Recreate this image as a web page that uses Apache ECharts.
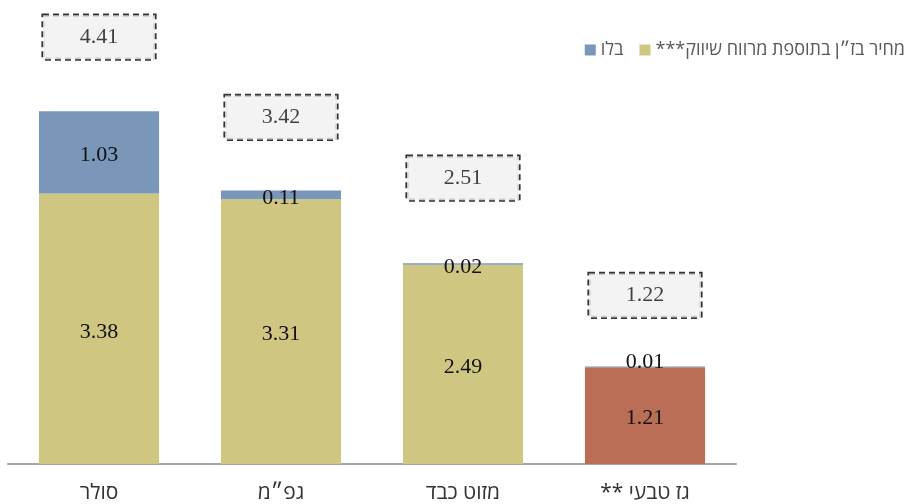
<!DOCTYPE html>
<html>
<head>
<meta charset="utf-8">
<script src="https://cdn.jsdelivr.net/npm/echarts@6/dist/echarts.min.js"></script>
<style>html,body{margin:0;padding:0;background:#fff}#c{width:914px;height:504px}</style>
</head>
<body>
<div id="c"></div>
<script>
var categories = ['סולר', 'גפ״מ', 'מזוט כבד', 'גז טבעי **'];
var basePrice = [3.38, 3.31, 2.49, 1.21];
var excise = [1.03, 0.11, 0.02, 0.01];
var totals = [4.41, 3.42, 2.51, 1.22];
var seriesNames = ['מחיר בז״ן בתוספת מרווח שיווק***', 'בלו'];

var labelLift = [74, 73, 85, 71];
var serif = '"Liberation Serif", "DejaVu Serif", serif';
var sans = '"Open Sans", "Liberation Sans", "DejaVu Sans", sans-serif';
function rtl(s) { return '\u202B' + s + '\u202C'; }

var chart = echarts.init(document.getElementById('c'), null, {renderer: 'canvas'});
chart.setOption({
  animation: false,
  backgroundColor: '#fff',
  grid: {left: 8, right: 178, top: 64, bottom: 38},
  legend: {
    data: [seriesNames[1], seriesNames[0]],
    right: 4, top: 36,
    itemWidth: 11, itemHeight: 11, itemGap: 16,
    icon: 'rect',
    formatter: function (n) { return rtl(n); },
    textStyle: {fontFamily: sans, fontSize: 18, color: '#595959'}
  },
  xAxis: {
    type: 'category', data: categories,
    axisLine: {lineStyle: {color: '#a6a6a6', width: 2}},
    axisTick: {show: false},
    axisLabel: {fontFamily: sans, fontSize: 21, color: '#333', margin: 19,
      formatter: function (v) { return rtl(v); }}
  },
  yAxis: {type: 'value', min: 0, max: 5, show: false, splitLine: {show: false}},
  series: [
    {
      name: seriesNames[0], type: 'bar', stack: 's', barWidth: '66%',
      itemStyle: {color: '#cfc682'},
      label: {show: true, position: 'inside', offset: [0, 3], fontFamily: serif, fontSize: 22, color: '#111'},
      data: basePrice.map(function (v, i) {
        return i === 3 ? {value: v, itemStyle: {color: '#b96e55'}} : v;
      })
    },
    {
      name: seriesNames[1], type: 'bar', stack: 's', barWidth: '66%',
      itemStyle: {color: '#7a96b8'},
      label: {show: true, position: 'inside', offset: [0, 3], fontFamily: serif, fontSize: 22, color: '#111'},
      data: excise.map(function (v, i) {
        return i === 3 ? {value: v, label: {offset: [0, -5]}} : v;
      })
    },
    {
      name: 'total', type: 'scatter', symbolSize: 0, silent: true,
      label: {
        show: true, position: 'inside',
        fontFamily: serif, fontSize: 22, color: '#111',
        backgroundColor: '#f0f0f0',
        borderColor: '#000', borderWidth: 1.6, borderType: [6, 4],
        width: 112, height: 44, lineHeight: 44, align: 'center', verticalAlign: 'middle',
        padding: 0
      },
      data: totals.map(function (v, i) {
        return {value: v, label: {offset: [0, -labelLift[i]]}};
      })
    }
  ]
});
</script>
</body>
</html>
